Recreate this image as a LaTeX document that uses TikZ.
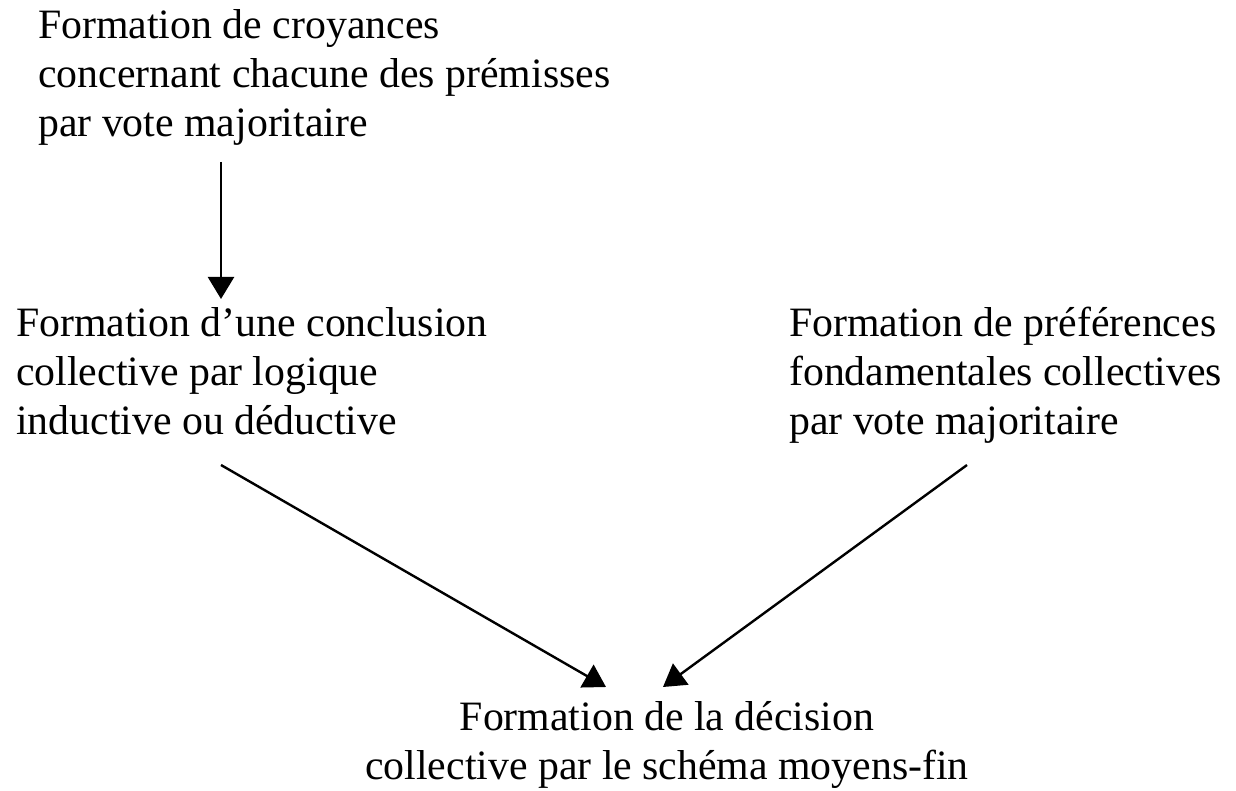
\documentclass[tikz,border=0pt]{standalone}
\usepackage{fontspec}
\setmainfont{Liberation Serif}
\usetikzlibrary{arrows.meta}
\tikzstyle{schema} = [x = 1pt, y = -1pt]
% le point d'ancrage "base" d'un bloc est la ligne de base de sa derniere ligne
\tikzstyle{blocText} = [anchor=base west, inner sep=0, align=left, font=\fontsize{41.8}{49}\selectfont]
\tikzstyle{blocCentre} = [blocText, anchor=base, align=center]
\tikzstyle{fleche} = [line width=2.4pt, -{Triangle[length=22pt, width=26pt]}]

\begin{document}
\begin{tikzpicture}[schema]
  \useasboundingbox (0,0) rectangle (1236,791);
  % les blocs de texte
  \node [blocText] (croyances) at (38,137) {Formation de croyances\\concernant chacune des prémisses\\par vote majoritaire};
  \node [blocText] (conclusion) at (16,434) {Formation d’une conclusion\\collective par logique\\inductive ou déductive};
  \node [blocText] (preferences) at (789,434) {Formation de préférences\\fondamentales collectives\\par vote majoritaire};
  \node [blocCentre] (decision) at (667,779) {Formation de la décision\\collective par le schéma moyens-fin};
  % les extremites des fleches
  \coordinate (depCroyances) at (221,162);
  \coordinate (arrConclusion) at (221,299);
  \coordinate (depConclusion) at (221,465);
  \coordinate (arrDecisionG) at (606,687);
  \coordinate (depPreferences) at (967,465);
  \coordinate (arrDecisionD) at (663,687);
  \draw [fleche] (depCroyances) -- (arrConclusion);
  \draw [fleche] (depConclusion) -- (arrDecisionG);
  \draw [fleche] (depPreferences) -- (arrDecisionD);
\end{tikzpicture}
\end{document}
